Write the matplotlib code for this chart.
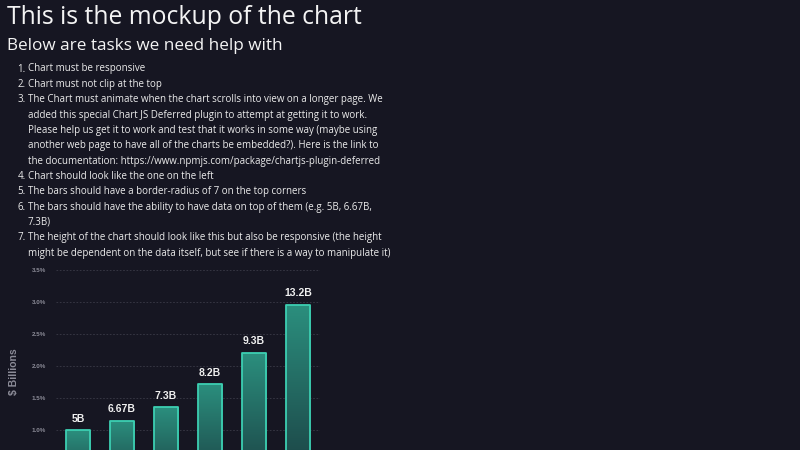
import matplotlib
matplotlib.use("Agg")
import matplotlib.pyplot as plt
import numpy as np
from matplotlib.colors import LinearSegmentedColormap

# data
cats = ["1", "2", "3", "4", "5", "6"]
vals = [1.0, 1.145, 1.355, 1.72, 2.21, 2.96]
labs = ["5B", "6.67B", "7.3B", "8.2B", "9.3B", "13.2B"]
yticks = [1.0, 1.5, 2.0, 2.5, 3.0, 3.5]
ytlab = ["1.0%", "1.5%", "2.0%", "2.5%", "3.0%", "3.5%"]

title = "This is the mockup of the chart"
subtitle = "Below are tasks we need help with"
tasks = [
    ("1.", ["Chart must be responsive"]),
    ("2.", ["Chart must not clip at the top"]),
    ("3.", ["The Chart must animate when the chart scrolls into view on a longer page. We",
            "added this special Chart JS Deferred plugin to attempt at getting it to work.",
            "Please help us get it to work and test that it works in some way (maybe using",
            "another web page to have all of the charts be embedded?). Here is the link to",
            "the documentation: https://www.npmjs.com/package/chartjs-plugin-deferred"]),
    ("4.", ["Chart should look like the one on the left"]),
    ("5.", ["The bars should have a border-radius of 7 on the top corners"]),
    ("6.", ["The bars should have the ability to have data on top of them (e.g. 5B, 6.67B,",
            "7.3B)"]),
    ("7.", ["The height of the chart should look like this but also be responsive (the height",
            "might be dependent on the data itself, but see if there is a way to manipulate it)"]),
]

bg = "#161622"
W, H = 800, 450

fig = plt.figure(figsize=(8, 4.5), dpi=100)
fig.patch.set_facecolor(bg)

def px(x, y):
    return x / W, 1 - y / H

tfont = "Open Sans"
fig.text(*px(7, 17), title, fontsize=17.8, color="#f4f4f4", family=tfont, va="center")
fig.text(*px(7, 46), subtitle, fontsize=12.3, color="#f4f4f4", family=tfont, va="center")

y = 69
for num, lines in tasks:
    fig.text(*px(25.5, y), num, fontsize=7.0, color="#ececec", family=tfont, va="center", ha="right")
    for ln in lines:
        fig.text(*px(28, y), ln, fontsize=7.0, color="#ececec", family=tfont, va="center")
        y += 15.35

# chart
ax = fig.add_axes([56 / W, (H - 494) / H, 264 / W, 224 / H])
ax.set_facecolor(bg)

bars = ax.bar(range(len(cats)), vals, width=0.56, color="none",
              edgecolor="#3ccfb2", linewidth=1.3, zorder=3, joinstyle="round")

cmap = LinearSegmentedColormap.from_list("g", ["#1a3a3e", "#2b8f7e"])
grad = np.linspace(0, 1, 256).reshape(-1, 1)
for b in bars:
    x0, w, h = b.get_x(), b.get_width(), b.get_height()
    im = ax.imshow(grad, cmap=cmap, origin="lower", aspect="auto",
                   extent=[x0, x0 + w, 0, h], zorder=2)
    im.set_clip_path(b)

for i, (v, t) in enumerate(zip(vals, labs)):
    ax.annotate(t, (i, v), xytext=(0, 4.5), textcoords="offset points",
                ha="center", va="bottom", color="#f0f0f0", fontsize=7.5,
                fontweight="bold", family="Liberation Sans")

ax.set_xlim(-0.5, len(cats) - 0.5)
ax.set_ylim(0, 3.5)
ax.set_yticks(yticks)
ax.set_yticklabels(ytlab, fontsize=4.5, color="#8c8c98", fontweight="bold", family="Liberation Sans")
ax.tick_params(axis="y", length=0, pad=7)
ax.set_xticks([])
ax.grid(axis="y", color="#3a3a48", linestyle=(0, (2, 2)), linewidth=0.6, zorder=0)
for s in ax.spines.values():
    s.set_visible(False)

fig.text(*px(14, 372), "$ Billions", rotation=90, fontsize=7.5, color="#8c8c98",
         fontweight="bold", family="Liberation Sans", ha="center", va="center")

fig.savefig("out.png", dpi=100, facecolor=bg)
